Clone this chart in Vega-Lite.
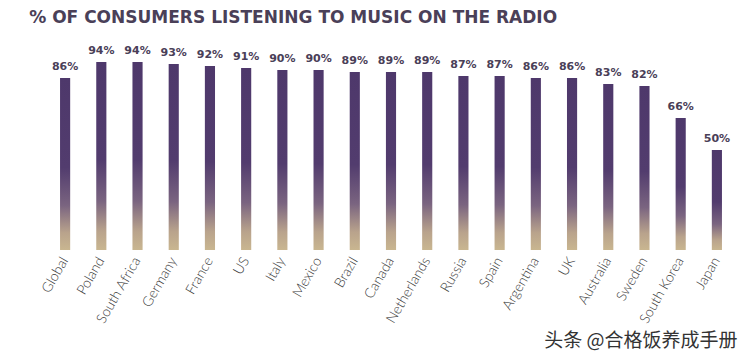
{
  "$schema": "https://vega.github.io/schema/vega-lite/v6.json",
  "autosize": {"type": "none"},
  "width": 688,
  "height": 200,
  "padding": {"left": 47, "top": 50, "right": 15, "bottom": 105},
  "background": "#ffffff",
  "view": {"stroke": null},
  "title": {
    "text": "% OF CONSUMERS LISTENING TO MUSIC ON THE RADIO",
    "anchor": "start",
    "dx": -10,
    "offset": 18,
    "font": "DejaVu Sans",
    "fontSize": 17,
    "fontWeight": "bold",
    "color": "#4a4058"
  },
  "data": {
    "values": [
      {"country": "Global", "pct": 0.86},
      {"country": "Poland", "pct": 0.94},
      {"country": "South Africa", "pct": 0.94},
      {"country": "Germany", "pct": 0.93},
      {"country": "France", "pct": 0.92},
      {"country": "US", "pct": 0.91},
      {"country": "Italy", "pct": 0.90},
      {"country": "Mexico", "pct": 0.90},
      {"country": "Brazil", "pct": 0.89},
      {"country": "Canada", "pct": 0.89},
      {"country": "Netherlands", "pct": 0.89},
      {"country": "Russia", "pct": 0.87},
      {"country": "Spain", "pct": 0.87},
      {"country": "Argentina", "pct": 0.86},
      {"country": "UK", "pct": 0.86},
      {"country": "Australia", "pct": 0.83},
      {"country": "Sweden", "pct": 0.82},
      {"country": "South Korea", "pct": 0.66},
      {"country": "Japan", "pct": 0.50}
    ]
  },
  "encoding": {
    "x": {
      "field": "country",
      "type": "nominal",
      "sort": null,
      "scale": {"paddingInner": 0.72, "paddingOuter": 0.36},
      "axis": {
        "title": "头条 @合格饭养成手册",
        "titleAnchor": "end",
        "titleAlign": "right",
        "titleFont": "Noto Sans CJK SC",
        "titleFontSize": 19,
        "titleFontWeight": "normal",
        "titleColor": "#333333",
        "titleX": 690,
        "titleY": 100,
        "titleBaseline": "bottom",
        "labelAngle": -60,
        "labelAlign": "right",
        "labelBaseline": "middle",
        "labelFont": "Lato",
        "labelFontSize": 14,
        "labelFontWeight": 300,
        "labelColor": "#3a3a3a",
        "labelPadding": 8,
        "ticks": false,
        "domain": false,
        "grid": false
      }
    },
    "y": {
      "field": "pct",
      "type": "quantitative",
      "scale": {"domain": [0, 1]},
      "axis": null
    }
  },
  "layer": [
    {
      "mark": {
        "type": "bar",
        "color": {
          "gradient": "linear",
          "x1": 0, "y1": 0, "x2": 0, "y2": 1,
          "stops": [
            {"offset": 0, "color": "#4e386b"},
            {"offset": 0.52, "color": "#523c6e"},
            {"offset": 0.74, "color": "#7a6480"},
            {"offset": 0.9, "color": "#b9a38c"},
            {"offset": 1, "color": "#c9b690"}
          ]
        }
      }
    },
    {
      "mark": {
        "type": "text",
        "baseline": "bottom",
        "dy": -6,
        "font": "DejaVu Sans",
        "fontSize": 11,
        "fontWeight": "bold",
        "color": "#4a4058"
      },
      "encoding": {
        "text": {"field": "pct", "type": "quantitative", "format": ".0%"}
      }
    }
  ]
}
